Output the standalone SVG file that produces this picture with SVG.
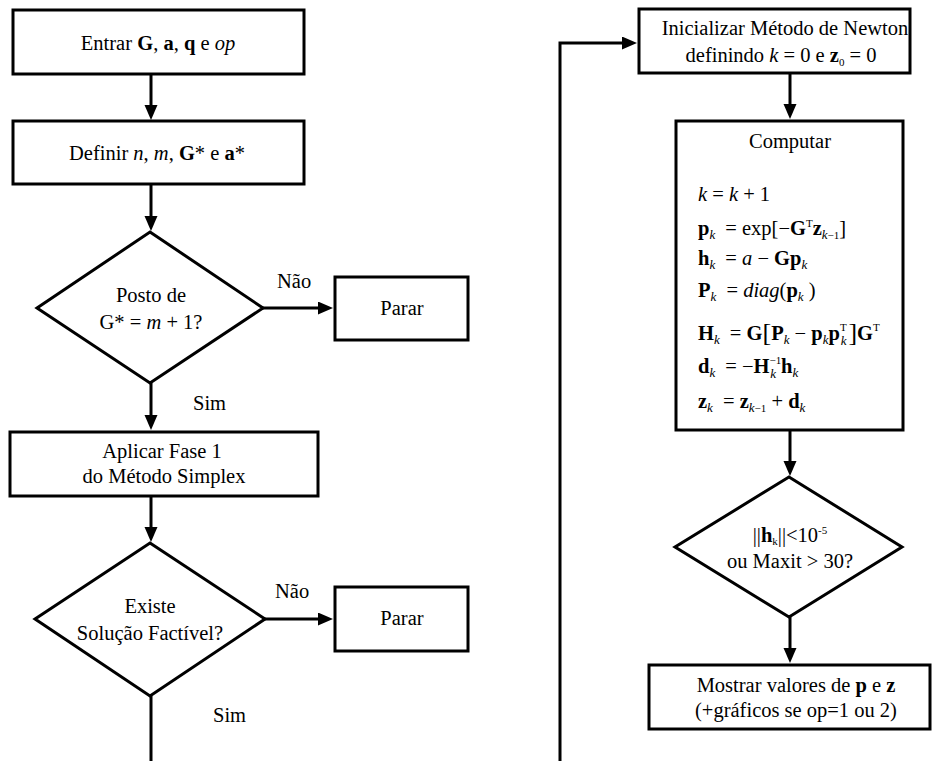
<svg xmlns="http://www.w3.org/2000/svg" width="932" height="761" viewBox="0 0 932 761" font-family="'Liberation Serif', 'Times New Roman', 'DejaVu Serif', serif">
<style>
.box{fill:#fff;stroke:#000;stroke-width:3}
.c{fill:none;stroke:#000;stroke-width:3}
text{font-family:'Liberation Serif','Times New Roman','DejaVu Serif',serif;font-size:20.5px;fill:#000}
.m{text-anchor:middle}
.f{font-size:20.5px}
.b{font-weight:bold}
.i{font-style:italic}
.s{font-size:13px;font-style:italic}
.u{font-size:11px}
</style>
<defs>
<marker id="ah" markerUnits="userSpaceOnUse" markerWidth="16" markerHeight="14" refX="10" refY="6.5" orient="auto">
<path d="M0,0 L15,6.5 L0,13 z" fill="#000"/>
</marker>
</defs>
<rect width="932" height="761" fill="#fff"/>
<g id="connectors">
<path class="c" d="M151,74 V115" marker-end="url(#ah)"/>
<path class="c" d="M151,184 V226" marker-end="url(#ah)"/>
<path class="c" d="M263,308 H328" marker-end="url(#ah)"/>
<path class="c" d="M151,383 V425" marker-end="url(#ah)"/>
<path class="c" d="M151,496 V537" marker-end="url(#ah)"/>
<path class="c" d="M265,619 H328" marker-end="url(#ah)"/>
<path class="c" d="M151,696 V761"/>
<path class="c" d="M560,761 V43 H632" marker-end="url(#ah)"/>
<path class="c" d="M790,73 V114" marker-end="url(#ah)"/>
<path class="c" d="M790,430 V471" marker-end="url(#ah)"/>
<path class="c" d="M790,617 V658" marker-end="url(#ah)"/>
<text x="277" y="288">Não</text>
<text x="193" y="410">Sim</text>
<text x="275" y="598">Não</text>
<text x="213" y="722">Sim</text>
</g>
<g id="n1">
<rect class="box" x="13" y="10" width="291" height="64"/>
<text class="m" x="158" y="50">Entrar <tspan class="b">G</tspan>, <tspan class="b">a</tspan>, <tspan class="b">q</tspan> e <tspan class="i">op</tspan></text>
</g>
<g id="n2">
<rect class="box" x="13" y="121" width="291" height="63"/>
<text class="m" x="157" y="160">Definir <tspan class="i">n</tspan>, <tspan class="i">m</tspan>, <tspan class="b">G</tspan>* e <tspan class="b">a</tspan>*</text>
</g>
<g id="d1">
<polygon class="box" points="150,232 263,308 150,383 37,308"/>
<text class="m" x="151" y="302">Posto de</text>
<text class="m" x="151" y="329">G* = <tspan class="i">m</tspan> + 1?</text>
</g>
<g id="stop1">
<rect class="box" x="335" y="277" width="133" height="63"/>
<text class="m" x="402" y="315">Parar</text>
</g>
<g id="n3">
<rect class="box" x="10" y="432" width="308" height="64"/>
<text class="m" x="162" y="458">Aplicar Fase 1</text>
<text class="m" x="164" y="483">do Método Simplex</text>
</g>
<g id="d2">
<polygon class="box" points="150,543 265,619 150,696 35,619"/>
<text class="m" x="150" y="613">Existe</text>
<text class="m" x="150" y="640">Solução Factível?</text>
</g>
<g id="stop2">
<rect class="box" x="335" y="587" width="133" height="64"/>
<text class="m" x="402" y="625">Parar</text>
</g>
<g id="r1">
<rect class="box" x="639" y="9" width="271" height="64"/>
<text class="m" x="785" y="35">Inicializar Método de Newton</text>
<text class="m" x="781" y="62">definindo <tspan class="i">k</tspan> = 0 e <tspan class="b">z</tspan><tspan class="u" dy="4">0</tspan><tspan dy="-4"> = 0</tspan></text>
</g>
<g id="r2">
<rect class="box" x="676" y="121" width="227" height="309"/>
<text class="m" x="790" y="148">Computar</text>
<text class="f" x="698" y="201"><tspan class="i">k</tspan> = <tspan class="i">k</tspan> + 1</text>
<text class="f" x="698" y="235"><tspan class="b">p</tspan><tspan class="s" dy="4">k</tspan><tspan dx="5" dy="-4"> = exp[−</tspan><tspan class="b">G</tspan><tspan class="u" dy="-8">T</tspan><tspan class="b" dy="8">z</tspan><tspan class="s" dy="4">k</tspan><tspan class="u">−1</tspan><tspan dy="-4">]</tspan></text>
<text class="f" x="698" y="265"><tspan class="b">h</tspan><tspan class="s" dy="4">k</tspan><tspan dx="5" dy="-4"> = </tspan><tspan class="i">a</tspan> − <tspan class="b">Gp</tspan><tspan class="s" dy="4">k</tspan></text>
<text class="f" x="698" y="297"><tspan class="b">P</tspan><tspan class="s" dy="4">k</tspan><tspan dx="5" dy="-4"> = </tspan><tspan class="i">diag</tspan>(<tspan class="b">p</tspan><tspan class="s" dy="4">k</tspan><tspan dy="-4"> )</tspan></text>
<text class="f" x="698" y="340"><tspan class="b">H</tspan><tspan class="s" dy="4">k</tspan><tspan dx="5" dy="-4"> = </tspan><tspan class="b">G</tspan><tspan font-size="26" dy="1">[</tspan><tspan class="b" dy="-1">P</tspan><tspan class="s" dy="4">k</tspan><tspan dy="-4"> − </tspan><tspan class="b">p</tspan><tspan class="s" dy="4">k</tspan><tspan class="b" dy="-4">p</tspan><tspan class="u" dy="-9">T</tspan><tspan class="s" font-size="11" dx="-6" dy="14">k</tspan><tspan font-size="26" dx="2" dy="-4">]</tspan><tspan class="b" dy="-1">G</tspan><tspan class="u" dy="-9">T</tspan></text>
<text class="f" x="698" y="373"><tspan class="b">d</tspan><tspan class="s" dy="4">k</tspan><tspan dx="5" dy="-4"> = −</tspan><tspan class="b">H</tspan><tspan class="u" dy="-9">−1</tspan><tspan class="s" font-size="11" dx="-11" dy="14">k</tspan><tspan class="b" dx="5" dy="-5">h</tspan><tspan class="s" dy="4">k</tspan></text>
<text class="f" x="698" y="408"><tspan class="b">z</tspan><tspan class="s" dy="4">k</tspan><tspan dx="5" dy="-4"> = </tspan><tspan class="b">z</tspan><tspan class="s" dy="4">k</tspan><tspan class="u">−1</tspan><tspan dy="-4"> + </tspan><tspan class="b">d</tspan><tspan class="s" dy="4">k</tspan></text>
</g>
<g id="d3">
<polygon class="box" points="789,477 902,547 789,617 675,547"/>
<text class="m" x="790" y="542">||<tspan class="b">h</tspan><tspan class="u" dy="3">k</tspan><tspan dy="-3">||&lt;10</tspan><tspan class="u" dy="-8">-5</tspan></text>
<text class="m" x="790" y="568">ou Maxit &gt; 30?</text>
</g>
<g id="r3">
<rect class="box" x="649" y="665" width="281" height="64"/>
<text class="m" x="796" y="692">Mostrar valores de <tspan class="b">p</tspan> e <tspan class="b">z</tspan></text>
<text class="m" x="796" y="717">(+gráficos se op=1 ou 2)</text>
</g>
</svg>
